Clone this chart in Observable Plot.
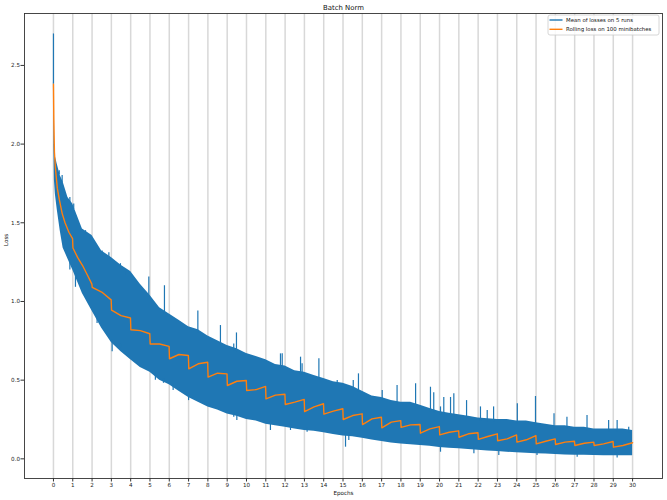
<!DOCTYPE html>
<html>
<head>
<meta charset="utf-8">
<script src="https://cdn.jsdelivr.net/npm/d3@7"></script>
<script src="https://cdn.jsdelivr.net/npm/@observablehq/plot@0.6"></script>
<style>
  body { margin: 0; background: #fff; }
  #chart { position: relative; width: 667px; height: 500px; }
</style>
</head>
<body>
<div id="chart"></div>
<script>
// ---- Data ----
const title = "Batch Norm";
const xLabel = "Epochs";
const yLabel = "Loss";
const seriesNames = ["Mean of losses on 5 runs", "Rolling loss on 100 minibatches"];
const xTicks = [0,1,2,3,4,5,6,7,8,9,10,11,12,13,14,15,16,17,18,19,20,21,22,23,24,25,26,27,28,29,30];
const yTicks = [0.0, 0.5, 1.0, 1.5, 2.0, 2.5];

// Blue series (mean of losses) shown as its envelope: epochs, upper and lower edge
const bandEpochs = [0,0.02,0.05,0.1,0.2,0.35,0.5,0.75,1,1.5,2,2.5,3,3.5,4,4.5,5,5.5,6,6.5,7,7.5,8,8.5,9,9.5,10,10.5,11,11.5,12,12.5,13,13.5,14,14.5,15,15.5,16,16.5,17,17.5,18,18.5,19,19.5,20,20.5,21,21.5,22,22.5,23,23.5,24,24.5,25,25.5,26,26.5,27,27.5,28,28.5,29,29.5,30];
const bandUpper = [2.40,2.30,2.00,1.92,1.87,1.80,1.76,1.66,1.62,1.46,1.42,1.32,1.28,1.23,1.19,1.11,1.04,0.96,0.92,0.88,0.84,0.82,0.78,0.75,0.72,0.70,0.67,0.65,0.63,0.60,0.59,0.56,0.55,0.53,0.51,0.49,0.48,0.46,0.43,0.40,0.39,0.37,0.36,0.36,0.34,0.32,0.30,0.29,0.28,0.27,0.26,0.255,0.25,0.25,0.24,0.24,0.23,0.22,0.21,0.21,0.20,0.20,0.19,0.19,0.19,0.19,0.18];
const bandLower = [2.38,2.00,1.77,1.68,1.58,1.45,1.34,1.27,1.20,1.05,0.94,0.83,0.74,0.68,0.63,0.58,0.55,0.50,0.47,0.43,0.39,0.36,0.33,0.31,0.285,0.27,0.25,0.24,0.22,0.21,0.20,0.19,0.18,0.175,0.165,0.155,0.145,0.14,0.13,0.12,0.11,0.10,0.095,0.09,0.085,0.08,0.072,0.068,0.064,0.06,0.055,0.05,0.046,0.042,0.038,0.035,0.032,0.03,0.027,0.025,0.023,0.022,0.021,0.02,0.019,0.019,0.019];

// Individual spikes of the blue series beyond its envelope: epoch and tip value
const spikeUpEpochs = [0,0.3,0.45,0.85,1.05,1.66,1.92,2.52,2.87,3.47,3.78,4.94,5.75,7.48,8.65,9.34,9.48,11.76,11.85,12.8,12.88,13.75,14.7,15.53,15.8,17.03,17.8,18.76,19.53,19.7,20.05,20.22,20.57,20.74,21.4,22.12,22.47,22.8,24.03,24.97,25.93,26.6,27.64,28.76,29.2,29.8];
const spikeUpTips   = [2.70,1.83,1.80,1.66,1.62,1.45,1.39,1.32,1.31,1.24,1.165,1.155,1.10,0.94,0.847,0.73,0.80,0.667,0.667,0.646,0.604,0.636,0.498,0.498,0.54,0.434,0.466,0.477,0.455,0.42,0.33,0.39,0.39,0.413,0.37,0.33,0.307,0.33,0.35,0.396,0.286,0.265,0.275,0.243,0.243,0.20];
const spikeDownEpochs = [0.85,1.14,2.26,3.04,3.47,4.5,5.28,5.7,6.2,6.49,7.0,8.13,9.17,9.34,9.5,11.24,12.28,13.14,15.13,15.3,20.05,21.78,23.07,25.05,27.13,29.2];
const spikeDownTips   = [1.20,1.09,0.86,0.68,0.73,0.60,0.50,0.48,0.435,0.434,0.37,0.33,0.286,0.265,0.243,0.18,0.18,0.169,0.074,0.116,0.042,0.032,0.021,0.021,0.01,0.006];

// Orange series (rolling loss on 100 minibatches)
const rollEpochs = [0,0.02,0.05,0.1,0.2,0.3,0.45,0.6,0.8,0.99,1.01,1.25,1.5,1.75,1.99,2.01,2.5,2.99,3.01,3.5,3.99,4.01,4.5,4.99,5.01,5.5,5.99,6.01,6.5,6.99,7.01,7.5,7.99,8.01,8.5,8.99,9.01,9.5,9.99,10.01,10.5,10.99,11.01,11.5,11.99,12.01,12.5,12.99,13.01,13.5,13.99,14.01,14.5,14.99,15.01,15.5,15.99,16.01,16.5,16.99,17.01,17.5,17.99,18.01,18.5,18.99,19.01,19.5,19.99,20.01,20.5,20.99,21.01,21.5,21.99,22.01,22.5,22.99,23.01,23.5,23.99,24.01,24.5,24.99,25.01,25.5,25.99,26.01,26.5,26.99,27.01,27.5,27.99,28.01,28.5,28.99,29.01,29.5,30];
const rollLoss = [2.38,2.15,1.95,1.85,1.72,1.65,1.56,1.50,1.44,1.40,1.34,1.28,1.23,1.17,1.11,1.09,1.06,1.01,0.945,0.91,0.895,0.82,0.815,0.795,0.73,0.73,0.715,0.636,0.663,0.657,0.572,0.604,0.614,0.519,0.544,0.54,0.466,0.493,0.498,0.434,0.44,0.46,0.381,0.405,0.41,0.345,0.36,0.378,0.30,0.33,0.35,0.284,0.303,0.318,0.25,0.275,0.286,0.218,0.254,0.264,0.197,0.233,0.243,0.20,0.216,0.218,0.163,0.19,0.205,0.152,0.169,0.178,0.137,0.159,0.166,0.124,0.142,0.159,0.115,0.127,0.152,0.106,0.121,0.148,0.095,0.112,0.127,0.091,0.106,0.112,0.085,0.099,0.106,0.085,0.095,0.11,0.074,0.085,0.102];

// ---- Build tables for the library ----
const band = bandEpochs.map((e, i) => ({epoch: e, hi: bandUpper[i], lo: bandLower[i]}));
const roll = rollEpochs.map((e, i) => ({epoch: e, loss: rollLoss[i]}));
const edgeAt = (arr, e) => {
  const i = Math.min(bandEpochs.length - 1, Math.max(1, d3.bisectLeft(bandEpochs, e)));
  const e0 = bandEpochs[i - 1], e1 = bandEpochs[i];
  const t = Math.max(0, Math.min(1, (e - e0) / (e1 - e0)));
  return arr[i - 1] + t * (arr[i] - arr[i - 1]);
};
const spikes = [
  ...spikeUpEpochs.map((e, i) => ({epoch: e, tip: spikeUpTips[i], base: edgeAt(bandUpper, e) - 0.02})),
  ...spikeDownEpochs.map((e, i) => ({epoch: e, tip: spikeDownTips[i], base: edgeAt(bandLower, e) + 0.02}))
];

const blue = "#1f77b4", orange = "#ff7f0e";
const font = "DejaVu Sans";

const plot = Plot.plot({
  width: 667,
  height: 500,
  marginLeft: 24,
  marginRight: 5,
  marginTop: 13,
  marginBottom: 22,
  style: {fontFamily: font, fontSize: "5.6px", color: "#222", background: "#fff"},
  x: {domain: [-1.5, 31.55]},
  y: {domain: [-0.125, 2.83]},
  marks: [
    Plot.ruleX(xTicks, {stroke: "#d8d8d8", strokeWidth: 1.5}),
    Plot.areaY(band, {x: "epoch", y1: "lo", y2: "hi", fill: blue, curve: "linear"}),
    Plot.ruleX(spikes, {x: "epoch", y1: "base", y2: "tip", stroke: blue, strokeWidth: 1.2}),
    Plot.line(roll, {x: "epoch", y: "loss", stroke: orange, strokeWidth: 1.4}),
    Plot.frame({stroke: "#333", strokeWidth: 0.9}),
    Plot.axisX({ticks: xTicks, tickSize: 3.5, tickPadding: 1.5, tickFormat: d => String(d), label: null, stroke: "#333", fontSize: 5.6}),
    Plot.axisY({ticks: yTicks, tickSize: 3.5, tickPadding: 1, tickFormat: d3.format(".1f"), label: null, stroke: "#333", fontSize: 5.6}),
    Plot.text([title], {frameAnchor: "top", lineAnchor: "middle", dy: -5.7, fontSize: 6.9, fill: "#111"}),
    Plot.text([xLabel], {frameAnchor: "bottom", lineAnchor: "middle", dy: 15, fontSize: 5.6, fill: "#111"}),
    Plot.text([yLabel], {frameAnchor: "left", lineAnchor: "middle", dx: -18, rotate: -90, fontSize: 5.6, fill: "#111"})
  ]
});

// Legend (top-right inside the frame)
const svg = d3.select(plot);
const lg = svg.append("g").attr("transform", "translate(548,15)");
lg.append("rect").attr("width", 111).attr("height", 20).attr("rx", 2)
  .attr("fill", "#fff").attr("fill-opacity", 0.85).attr("stroke", "#ccc").attr("stroke-width", 0.8);
[blue, orange].forEach((c, i) => {
  const yy = 5 + i * 9.3;
  lg.append("line").attr("x1", 1.5).attr("x2", 14.5).attr("y1", yy).attr("y2", yy)
    .attr("stroke", c).attr("stroke-width", 1.4);
  lg.append("text").attr("x", 18).attr("y", yy).attr("dy", "0.32em")
    .attr("text-anchor", "start")
    .attr("font-size", 5.4).attr("font-family", font).attr("fill", "#111")
    .text(seriesNames[i]);
});

document.getElementById("chart").appendChild(plot);
</script>
</body>
</html>
